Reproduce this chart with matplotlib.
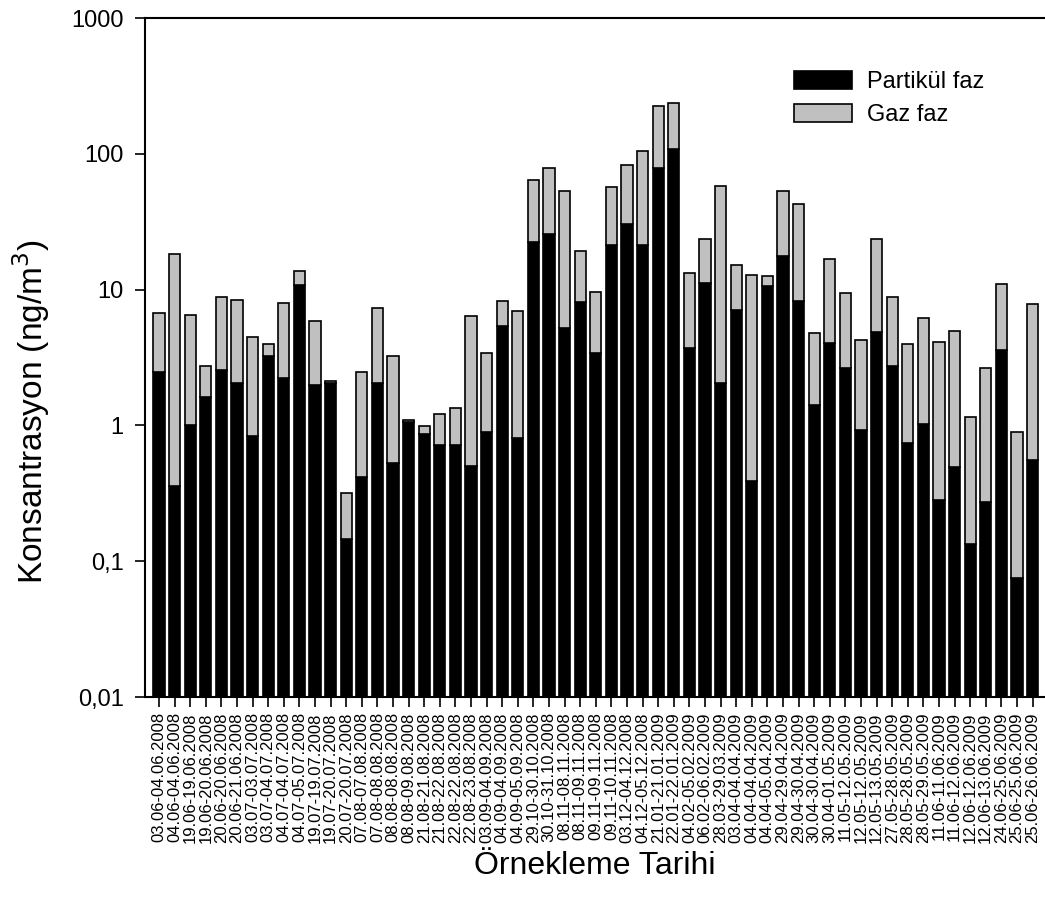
import numpy as np
from matplotlib import pyplot as plt
from matplotlib.ticker import FixedLocator, NullLocator

plt.rcParams['font.family'] = ['Liberation Sans', 'DejaVu Sans']

dates = ["03.06-04.06.2008", "04.06-04.06.2008", "19.06-19.06.2008", "19.06-20.06.2008",
         "20.06-20.06.2008", "20.06-21.06.2008", "03.07-03.07.2008", "03.07-04.07.2008",
         "04.07-04.07.2008", "04.07-05.07.2008", "19.07-19.07.2008", "19.07-20.07.2008",
         "20.07-20.07.2008", "07.08-07.08.2008", "07.08-08.08.2008", "08.08-08.08.2008",
         "08.08-09.08.2008", "21.08-21.08.2008", "21.08-22.08.2008", "22.08-22.08.2008",
         "22.08-23.08.2008", "03.09-04.09.2008", "04.09-04.09.2008", "04.09-05.09.2008",
         "29.10-30.10.2008", "30.10-31.10.2008", "08.11-08.11.2008", "08.11-09.11.2008",
         "09.11-09.11.2008", "09.11-10.11.2008", "03.12-04.12.2008", "04.12-05.12.2008",
         "21.01-21.01.2009", "22.01-22.01.2009", "04.02-05.02.2009", "06.02-06.02.2009",
         "28.03-29.03.2009", "03.04-04.04.2009", "04.04-04.04.2009", "04.04-05.04.2009",
         "29.04-29.04.2009", "29.04-30.04.2009", "30.04-30.04.2009", "30.04-01.05.2009",
         "11.05-12.05.2009", "12.05-12.05.2009", "12.05-13.05.2009", "27.05-28.05.2009",
         "28.05-28.05.2009", "28.05-29.05.2009", "11.06-11.06.2009", "11.06-12.06.2009",
         "12.06-12.06.2009", "12.06-13.06.2009", "24.06-25.06.2009", "25.06-25.06.2009",
         "25.06-26.06.2009"]

# particle phase (black)
partikul = [2.47, 0.356, 1.0, 1.62, 2.57, 2.05, 0.834, 3.24, 2.23, 10.8,
            1.97, 2.05, 0.146, 0.42, 2.05, 0.525, 1.06, 0.86, 0.72, 0.72,
            0.50, 0.89, 5.39, 0.81, 22.6, 25.5, 5.2, 8.14, 3.39, 21.4,
            30.7, 21.5, 79.4, 108, 3.73, 11.2, 2.06, 7.03, 0.387, 10.6,
            17.6, 8.19, 1.41, 4.08, 2.67, 0.93, 4.86, 2.72, 0.745, 1.03,
            0.282, 0.496, 0.134, 0.271, 3.59, 0.0755, 0.555]

# total (particle + gas)
toplam = [6.76, 18.2, 6.46, 2.75, 8.8, 8.43, 4.5, 3.98, 7.95, 13.8,
          5.86, 2.11, 0.32, 2.47, 7.36, 3.24, 1.10, 0.99, 1.22, 1.35,
          6.42, 3.43, 8.23, 7.0, 64.0, 79.4, 53.0, 19.4, 9.65, 57.3,
          82.6, 104.8, 226, 236, 13.3, 23.5, 57.8, 15.1, 12.9, 12.6,
          53.5, 43.0, 4.78, 16.7, 9.53, 4.25, 23.8, 8.77, 3.98, 6.17,
          4.13, 5.0, 1.15, 2.67, 11.1, 0.90, 7.91]

gaz = [t - p for t, p in zip(toplam, partikul)]

fig = plt.figure(figsize=(10.45, 9.07), dpi=100)
ax = fig.add_axes([0.1388, 0.2315, 0.8612, 0.7485])

x = np.arange(len(dates))
w = 0.72
ax.bar(x, partikul, w, color='black', edgecolor='black', linewidth=1.2,
       label='Partikül faz')
ax.bar(x, gaz, w, bottom=partikul, color='#c0c0c0', edgecolor='black',
       linewidth=1.2, label='Gaz faz')

ax.set_yscale('log')
ax.set_ylim(0.01, 1000)
ax.set_xlim(-0.9, 56.8)
ax.yaxis.set_major_locator(FixedLocator([0.01, 0.1, 1, 10, 100, 1000]))
ax.yaxis.set_minor_locator(NullLocator())
ax.set_yticklabels(['0,01', '0,1', '1', '10', '100', '1000'], fontsize=17)
ax.set_xticks(x)
ax.set_xticklabels(dates, rotation=90, fontsize=12)
ax.tick_params(axis='y', direction='out', length=7.5, width=1.2, pad=8)
ax.tick_params(axis='x', direction='out', length=7.5, width=1.2)

ax.spines['right'].set_visible(False)
for s in ['left', 'bottom', 'top']:
    ax.spines[s].set_linewidth(1.5)

ax.set_ylabel('Konsantrasyon (ng/m$^3$)', fontsize=24)
ax.yaxis.set_label_coords(-0.103, 0.42)
ax.set_xlabel('Örnekleme Tarihi', fontsize=23, labelpad=6)

ax.legend(loc='upper left', bbox_to_anchor=(773 / 1045, 1 - 50 / 907),
          bbox_transform=fig.transFigure, frameon=False,
          fontsize=17, handlelength=2.46, handleheight=0.8,
          handletextpad=0.64, labelspacing=0.45)

fig.savefig('out.png', dpi=100)
